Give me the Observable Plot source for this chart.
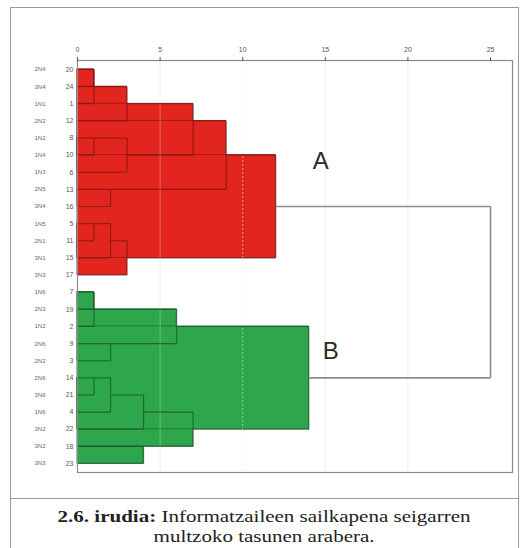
<!DOCTYPE html>
<html>
<head>
<meta charset="utf-8">
<script src="https://cdn.jsdelivr.net/npm/d3@7"></script>
<script src="https://cdn.jsdelivr.net/npm/@observablehq/plot@0.6"></script>
<style>
  html, body { margin: 0; padding: 0; background: #fff; }
  body { width: 523px; height: 548px; position: relative; overflow: hidden; }
  #box { position: absolute; left: 10px; top: 7px; width: 509px; height: 560px;
         border: 1.5px solid #9a9a9a; box-sizing: border-box; }
  #chart { position: absolute; left: 0; top: 0; }
  #caption { position: absolute; left: 10px; top: 498px; width: 509px; box-sizing: border-box;
             border-top: 1.5px solid #9a9a9a; text-align: center;
             font-family: "Liberation Serif", "Times New Roman", serif; font-size: 17.5px;
             line-height: 20px; color: #222; padding-top: 7px; }
  #caption span { display: inline-block; transform: scaleX(1.2); transform-origin: center; }
</style>
</head>
<body>
<div id="box"></div>
<div id="chart"></div>
<div id="caption"><span><b>2.6. irudia:</b> Informatzaileen sailkapena seigarren</span><br><span>multzoko tasunen arabera.</span></div>
<script>
// Leaf order of the dendrogram, top to bottom
const caseNumbers = [20, 24, 1, 12, 8, 10, 6, 13, 16, 5, 11, 15, 17, 7, 19, 2, 9, 3, 14, 21, 4, 22, 18, 23];
const caseNames = ["2N4", "3N4", "1N1", "2N2", "1N2", "1N4", "1N3", "2N5", "3N4", "1N5", "2N1", "3N1", "3N3",
                   "1N6", "2N3", "1N2", "2N6", "2N2", "2N6", "3N6", "1N6", "3N2", "3N2", "3N3"];
const caseGroups = ["A", "A", "A", "A", "A", "A", "A", "A", "A", "A", "A", "A", "A",
                    "B", "B", "B", "B", "B", "B", "B", "B", "B", "B", "B"];

// Agglomeration steps: node id, its two children and the rescaled distance
const mergeIds  = ["m1", "m2", "m3", "m4", "m5", "m6", "m7", "m8", "m9", "m10", "m11", "m12",
                   "m13", "m14", "m15", "m16", "m17", "m18", "m19", "m20", "m21", "m22", "m23"];
const mergeLeft  = [20, "m1", "m2", 8, "m4", "m3", 13, "m6", 5, "m9", "m10", "m8",
                    7, "m13", 9, "m14", 14, "m17", "m18", 18, "m19", "m16", "m12"];
const mergeRight = [24, 1, 12, 10, 6, "m5", 16, "m7", 11, 15, 17, "m11",
                    19, 2, 3, "m15", 21, 4, 22, 23, "m20", "m21", "m22"];
const mergeDist  = [1, 1, 3, 1, 3, 7, 2, 9, 1, 2, 3, 12,
                    1, 1, 2, 6, 1, 2, 4, 4, 7, 14, 25];

const distTicks = [0, 5, 10, 15, 20, 25];
const gridSolid = [5, 15, 20];
const gridDotted = [10];
const clusterLabels = ["A", "B"];
const clusterTops = ["m12", "m22"];

// Build node table: leaves get their row, merges sit at the middle row of their children
const nodes = new Map();
caseNumbers.forEach((c, i) => nodes.set(c, {row: i + 1, d: 0, group: caseGroups[i]}));
const merges = mergeIds.map((id, i) => {
  const a = nodes.get(mergeLeft[i]), b = nodes.get(mergeRight[i]);
  const group = a.group === b.group ? a.group : "root";
  const node = {id, a, b, d: mergeDist[i], row: Math.floor((a.row + b.row) / 2), group};
  nodes.set(id, node);
  return node;
});

// Filled bracket areas for each cluster step
const areas = merges.filter(m => m.group !== "root")
  .map(m => ({x1: 0, x2: m.d, y1: m.a.row, y2: m.b.row, group: m.group}));

// Dendrogram line segments
const segs = [];
for (const m of merges) {
  segs.push({x1: m.d, x2: m.d, y1: m.a.row, y2: m.b.row, group: m.group});
  for (const c of [m.a, m.b]) segs.push({x1: c.d, x2: m.d, y1: c.row, y2: c.row, group: m.group});
}

const fillColor = {A: "#e2251f", B: "#2ea64b"};
const edgeColor = {A: "#951b16", B: "#1f6d33"};
const lineColor = {A: "#7a1410", B: "#175428", root: "#8c8c8c"};

const labelRows = caseNumbers.map((_, i) => i + 1);
const labelData = clusterLabels.map((t, i) => ({text: t, x: nodes.get(clusterTops[i]).d, y: nodes.get(clusterTops[i]).row}));

const chart = Plot.plot({
  width: 523,
  height: 500,
  marginLeft: 77,
  marginRight: 11,
  marginTop: 60,
  marginBottom: 28,
  x: {domain: [0, 26.33], axis: null},
  y: {domain: [0.475, 24.525], range: [60, 472], axis: null},
  style: {fontFamily: "Liberation Sans, Arial, sans-serif", background: "transparent"},
  marks: [
    Plot.rect(areas, {x1: "x1", x2: "x2", y1: "y1", y2: "y2",
      fill: d => fillColor[d.group], stroke: d => edgeColor[d.group], strokeWidth: 0.8}),
    Plot.ruleX(gridSolid, {stroke: "#d8d8d8", strokeOpacity: 0.4}),
    Plot.ruleX(gridDotted, {stroke: "#e6e6e6", strokeOpacity: 0.6, strokeDasharray: "2,2"}),
    Plot.link(segs.filter(s => s.group !== "root"), {x1: "x1", y1: "y1", x2: "x2", y2: "y2",
      stroke: d => lineColor[d.group], strokeWidth: 1.1, strokeOpacity: 0.75}),
    Plot.link(segs.filter(s => s.group === "root"), {x1: "x1", y1: "y1", x2: "x2", y2: "y2",
      stroke: lineColor.root, strokeWidth: 1.6}),
    Plot.frame({stroke: "#8a8a8a", strokeWidth: 1.2}),
    Plot.axisX({anchor: "top", ticks: distTicks, tickSize: 4, tickPadding: 5, fontSize: 7,
      color: "#555", label: null}),
    Plot.axisY({ticks: labelRows, tickFormat: i => caseNumbers[i - 1], tickSize: 0, tickPadding: 4,
      fontSize: 7, color: "#555", label: null}),
    Plot.axisY({ticks: labelRows, tickFormat: i => caseNames[i - 1], tickSize: 0, tickPadding: 32,
      fontSize: 6, color: "#666", label: null}),
    Plot.text(labelData.slice(0, 1), {x: "x", y: "y", text: "text", dx: 45, dy: -45,
      fontSize: 24, fill: "#2a2a2a"}),
    Plot.text(labelData.slice(1), {x: "x", y: "y", text: "text", dx: 22, dy: -27,
      fontSize: 24, fill: "#2a2a2a"})
  ]
});
document.getElementById("chart").appendChild(chart);
</script>
</body>
</html>
